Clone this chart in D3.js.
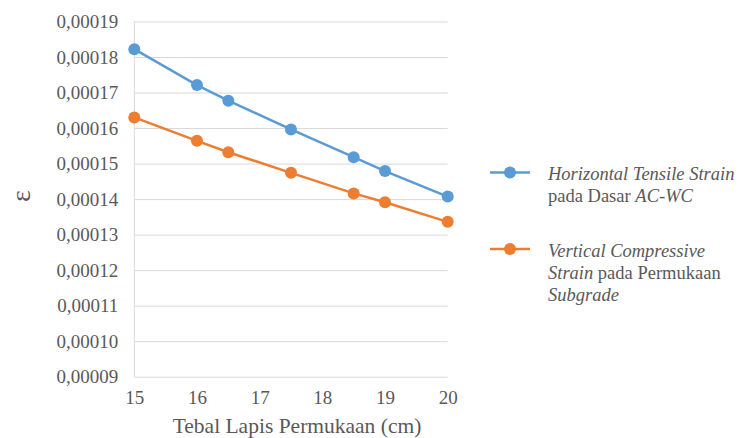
<!DOCTYPE html>
<html>
<head>
<meta charset="utf-8">
<script src="https://cdn.jsdelivr.net/npm/d3@7"></script>
</head>
<body style="margin:0">
<svg id="chart" width="744" height="438"></svg>
<script>
// Surface layer thickness (cm)
const thickness = [15, 16, 16.5, 17.5, 18.5, 19, 20];
// Horizontal tensile strain at the bottom of AC-WC
const tensileStrain = [0.0001822, 0.0001721, 0.0001677, 0.0001596, 0.0001518, 0.0001479, 0.0001407];
// Vertical compressive strain on the subgrade surface
const compressiveStrain = [0.0001630, 0.0001564, 0.0001532, 0.0001474, 0.0001416, 0.0001391, 0.0001336];
const xTicks = [15, 16, 17, 18, 19, 20];
const yTicks = [0.00009, 0.00010, 0.00011, 0.00012, 0.00013, 0.00014, 0.00015, 0.00016, 0.00017, 0.00018, 0.00019];

const seriesList = [
  { name: "tensile", values: tensileStrain, color: "#5b9bd5" },
  { name: "compressive", values: compressiveStrain, color: "#ed7d31" }
];

const FONT = "Liberation Serif";
const TEXT_COLOR = "#595959";

// Apply the serif face to a text selection
const serif = sel => sel.attr("font-family", FONT).style("font-family", FONT, "important");

const svg = d3.select("#chart");
serif(svg);
const x = d3.scaleLinear().domain([15, 20]).range([134.3, 447.7]);
const y = d3.scaleLinear().domain([0.00009, 0.00019]).range([376.7, 21.5]);

const fmt = v => v.toFixed(5).replace(".", ",");

// Horizontal gridlines with tick labels
const yAxis = d3.axisLeft(y).tickValues(yTicks).tickSize(-(x.range()[1] - x.range()[0])).tickFormat(fmt).tickPadding(16);
const gy = svg.append("g").attr("transform", `translate(${x.range()[0]},0)`).call(yAxis);
gy.attr("font-size", 19);
serif(gy);
gy.select(".domain").remove();
gy.selectAll(".tick line").attr("stroke", "#d9d9d9").attr("stroke-width", 1);
serif(gy.selectAll(".tick text").attr("fill", TEXT_COLOR));

// Vertical axis line
svg.append("line")
  .attr("x1", x.range()[0]).attr("x2", x.range()[0])
  .attr("y1", y.range()[1]).attr("y2", y.range()[0])
  .attr("stroke", "#d9d9d9").attr("stroke-width", 1);

// X tick labels
const xAxis = d3.axisBottom(x).tickValues(xTicks).tickSize(0).tickPadding(14).tickFormat(d3.format("d"));
const gx = svg.append("g").attr("transform", `translate(0,${y.range()[0]})`).call(xAxis);
gx.attr("font-size", 19);
serif(gx);
gx.select(".domain").remove();
serif(gx.selectAll(".tick text").attr("fill", TEXT_COLOR));

// Axis titles
serif(svg.append("text")
  .attr("x", 297).attr("y", 433)
  .attr("text-anchor", "middle")
  .attr("font-size", 21.5).attr("fill", TEXT_COLOR)
  .text("Tebal Lapis Permukaan (cm)"));

serif(svg.append("text")
  .attr("transform", "translate(30,196) rotate(-90)")
  .attr("text-anchor", "middle")
  .attr("font-size", 28).attr("fill", TEXT_COLOR)
  .text("ε"));

// Lines and markers
const line = d3.line().x((d, i) => x(thickness[i])).y(d => y(d));
seriesList.forEach(s => {
  svg.append("path")
    .datum(s.values)
    .attr("fill", "none")
    .attr("stroke", s.color)
    .attr("stroke-width", 2.5)
    .attr("d", line);
  svg.append("g").selectAll("circle")
    .data(s.values)
    .join("circle")
    .attr("cx", (d, i) => x(thickness[i]))
    .attr("cy", d => y(d))
    .attr("r", 6)
    .attr("fill", s.color);
});

// Legend
const legendItems = [
  { color: "#5b9bd5", y: 172.5, lines: [
      [["Horizontal Tensile Strain", true]],
      [["pada Dasar ", false], ["AC-WC", true]]
    ] },
  { color: "#ed7d31", y: 249, lines: [
      [["Vertical Compressive", true]],
      [["Strain", true], [" pada Permukaan", false]],
      [["Subgrade", true]]
    ] }
];
legendItems.forEach(item => {
  svg.append("line")
    .attr("x1", 490).attr("x2", 530)
    .attr("y1", item.y).attr("y2", item.y)
    .attr("stroke", item.color).attr("stroke-width", 2.5);
  svg.append("circle").attr("cx", 510).attr("cy", item.y).attr("r", 6).attr("fill", item.color);
  item.lines.forEach((segs, li) => {
    const t = serif(svg.append("text")
      .attr("x", 548)
      .attr("y", item.y + 7.5 + li * 22)
      .attr("font-size", 18.5).attr("fill", TEXT_COLOR));
    segs.forEach(([str, italic]) => {
      serif(t.append("tspan").attr("font-style", italic ? "italic" : "normal").text(str));
    });
  });
});
</script>
</body>
</html>
